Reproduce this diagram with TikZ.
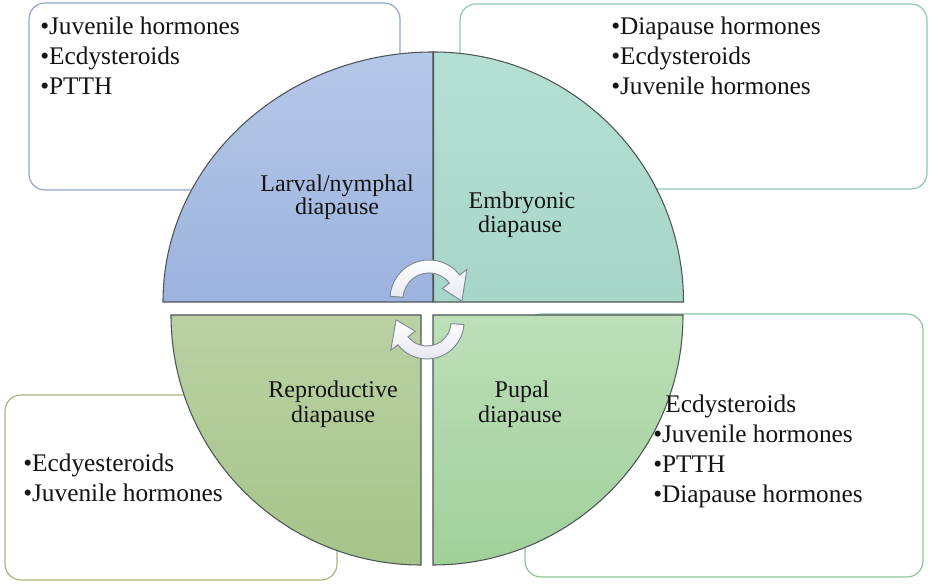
\documentclass[tikz,border=0pt]{standalone}
\usepackage{fontspec}
\setmainfont{Liberation Serif}
\definecolor{tlA}{HTML}{B6C8E8}
\definecolor{tlB}{HTML}{9CB3DE}
\definecolor{trA}{HTML}{B6DFD4}
\definecolor{trB}{HTML}{A6D6C8}
\definecolor{blA}{HTML}{BAD1A4}
\definecolor{blB}{HTML}{A6C489}
\definecolor{brA}{HTML}{BCDFB8}
\definecolor{brB}{HTML}{A0D09A}
\definecolor{qline}{HTML}{4F5457}
\definecolor{tlbox}{HTML}{8FAACC}
\definecolor{trbox}{HTML}{8CCAB9}
\definecolor{blbox}{HTML}{A7B77E}
\definecolor{brbox}{HTML}{8EC59A}
\definecolor{arrowline}{HTML}{808794}
\definecolor{arrowbot}{HTML}{E4E8F0}
\definecolor{txt}{HTML}{141414}
\begin{document}
\begin{tikzpicture}[x=0.75pt,y=0.75pt,
  boxstyle/.style={rounded corners=12pt, line width=0.9pt, fill=white},
  quarter/.style={draw=qline, line width=0.8pt},
  boxtext/.style={anchor=base west, inner sep=0pt, text=txt, font=\fontsize{19}{22.5}\selectfont},
  labeltext/.style={anchor=base, inner sep=0pt, text=txt, font=\fontsize{18}{18}\selectfont},
  cyclearrow/.style={top color=white, bottom color=arrowbot, draw=arrowline, line width=0.7pt}
]
\fill[white] (0,0) rectangle (931,584);
\useasboundingbox (0,0) rectangle (931,584);

% boxes
\draw[boxstyle, draw=tlbox] (29,394) rectangle (400,581);
\draw[boxstyle, draw=trbox] (460,395) rectangle (927,580);
\draw[boxstyle, draw=blbox] (5,4) rectangle (337,189);
\draw[boxstyle, draw=brbox] (525,7) rectangle (923,270);

% quarters
\path[quarter, top color=tlA, bottom color=tlB]
  (433,282) -- (163,282) arc[start angle=180, end angle=90, x radius=270, y radius=250] -- cycle;
\path[quarter, top color=trA, bottom color=trB]
  (433.5,282) -- (433.5,532) arc[start angle=90, end angle=0, radius=250] -- cycle;
\path[quarter, top color=blA, bottom color=blB]
  (421,269) -- (171,269) arc[start angle=180, end angle=270, radius=250] -- cycle;
\path[quarter, top color=brA, bottom color=brB]
  (433,269) -- (433,19) arc[start angle=270, end angle=360, radius=250] -- cycle;

% cycle arrows
\begin{scope}[shift={(429,285)}]
\path[cyclearrow] (176:39) arc[start angle=176, end angle=38, radius=39]
  -- (38:48) -- (-4:33) -- (38:17) -- (38:26)
  arc[start angle=38, end angle=176, radius=26] -- cycle;
\end{scope}
\begin{scope}[shift={(427,262)}]
\path[cyclearrow] (-4:37) arc[start angle=-4, end angle=-142, radius=37]
  -- (-142:46) -- (176:31) -- (-142:15) -- (-142:24)
  arc[start angle=-142, end angle=-4, radius=24] -- cycle;
\end{scope}

% quarter labels
\node[labeltext] (l1a) at (337,392) {Larval/nymphal};
\node[labeltext] (l1b) at (337,369) {diapause};
\node[labeltext] (l2a) at (522,375) {Embryonic};
\node[labeltext] (l2b) at (520,351) {diapause};
\node[labeltext] (l3a) at (333,186) {Reproductive};
\node[labeltext] (l3b) at (333,161) {diapause};
\node[labeltext] (l4a) at (522,186) {Pupal};
\node[labeltext] (l4b) at (520,161) {diapause};

% box texts
\node[boxtext] (tl1) at (40,549) {•Juvenile hormones};
\node[boxtext] (tl2) at (40,519) {•Ecdysteroids};
\node[boxtext] (tl3) at (40,489) {•PTTH};

\node[boxtext] (tr1) at (611,549) {•Diapause hormones};
\node[boxtext] (tr2) at (611,519) {•Ecdysteroids};
\node[boxtext] (tr3) at (611,489) {•Juvenile hormones};

\node[boxtext] (bl1) at (23,112) {•Ecdyesteroids};
\node[boxtext] (bl2) at (23,82) {•Juvenile hormones};

\node[boxtext] (br1) at (665,171) {Ecdysteroids};
\node[boxtext] (br2) at (653,141) {•Juvenile hormones};
\node[boxtext] (br3) at (653,111) {•PTTH};
\node[boxtext] (br4) at (653,81) {•Diapause hormones};
\end{tikzpicture}
\end{document}
